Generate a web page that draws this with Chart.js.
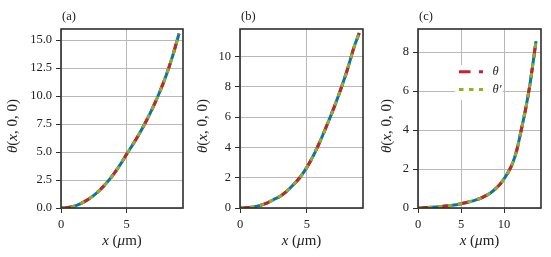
<!doctype html>
<html>
<head>
<title>theta(x,0,0) panels</title>
<script src="https://cdn.jsdelivr.net/npm/chart.js@4.4.0/dist/chart.umd.min.js"></script>
<style>
body { margin: 0; background: #fff; }
#wrap { position: relative; width: 551px; height: 257px; }
#wrap canvas { position: absolute; left: 0; top: 0; }
</style>
</head>
<body>
<div id="wrap">
	<canvas id="pa" width="551" height="257"></canvas>
	<canvas id="pb" width="551" height="257"></canvas>
	<canvas id="pc" width="551" height="257"></canvas>
</div>
<script>
// values (x in um, theta(x,0,0))
var xA = [0, 0.5, 1, 1.5, 2, 2.5, 3, 3.5, 4, 4.5, 5, 5.5, 6, 6.5, 7, 7.5, 8, 8.5, 9];
var yA = [0, 0.04, 0.17, 0.4, 0.72, 1.13, 1.65, 2.27, 3.0, 3.85, 4.8, 5.72, 6.7, 7.78, 8.97, 10.3, 11.8, 13.55, 15.6];

var xB = [0, 0.5, 1, 1.5, 2, 2.5, 3, 3.5, 4, 4.5, 5, 5.5, 6, 6.5, 7, 7.5, 8, 8.5, 8.9];
var yB = [0, 0.01, 0.07, 0.17, 0.33, 0.55, 0.78, 1.12, 1.55, 2.05, 2.7, 3.5, 4.45, 5.5, 6.6, 7.8, 9.1, 10.6, 11.56];

var xC = [0, 1, 2, 3, 4, 5, 6, 7, 7.5, 8, 8.5, 9, 9.5, 10, 10.5, 11, 11.5, 12, 12.5, 13, 13.5, 13.72];
var yC = [0, 0.02, 0.05, 0.09, 0.14, 0.22, 0.32, 0.46, 0.55, 0.66, 0.8, 0.98, 1.2, 1.5, 1.85, 2.3, 3.0, 4.0, 5.05, 6.3, 7.85, 8.57];

var panelTags = ['(a)', '(b)', '(c)'];
var legendNames = ['\u03b8', '\u03b8\u2032'];

var blue = '#0a72b8';
var red = '#cc1f33';
var green = '#8ab51c';
var serif = '"Liberation Serif", "DejaVu Serif", serif';

function toPoints(xs, ys)
{
	var pts = [];
	for (var i = 0; i < xs.length; i++) {
		pts.push({x: xs[i], y: ys[i]});
	}
	return pts;
}

// draw a string made of upright/italic pieces, centred on (x, y)
function drawRich(ctx, parts, x, y, size)
{
	var total = 0;
	parts.forEach(function(p) {
		ctx.font = (p.it ? 'italic ' : '') + size + 'px ' + serif;
		p.w = ctx.measureText(p.t).width;
		total += p.w;
	});
	var cx = x - total / 2;
	ctx.textAlign = 'left';
	ctx.textBaseline = 'middle';
	parts.forEach(function(p) {
		ctx.font = (p.it ? 'italic ' : '') + size + 'px ' + serif;
		ctx.fillText(p.t, cx, y);
		cx += p.w;
	});
}

var panelDecor = {
	id: 'panelDecor',
	afterDraw: function(chart) {
		var o = chart.options.plugins.panelDecor;
		var ctx = chart.ctx;
		var a = chart.chartArea;
		ctx.save();

		if (o.legend) {
			ctx.fillStyle = 'rgba(255,255,255,0.95)';
			ctx.fillRect(455, 65, 48, 35);
			var rows = [[red, [11.5, 8.5], 71.7], [green, [4.5, 5.5], 89.5]];
			rows.forEach(function(r, i) {
				ctx.strokeStyle = r[0];
				ctx.lineWidth = 3;
				ctx.setLineDash(r[1]);
				ctx.beginPath();
				ctx.moveTo(459, r[2]);
				ctx.lineTo(483, r[2]);
				ctx.stroke();
				ctx.setLineDash([]);
				ctx.fillStyle = '#222';
				ctx.font = 'italic 12.5px ' + serif;
				ctx.textAlign = 'left';
				ctx.textBaseline = 'middle';
				ctx.fillText(legendNames[i], 492.5, r[2]);
			});
		}

		// spines
		ctx.strokeStyle = '#2e2e2e';
		ctx.lineWidth = 1.6;
		ctx.strokeRect(a.left, a.top, a.right - a.left, a.bottom - a.top);

		ctx.fillStyle = '#222';
		ctx.font = '12.5px ' + serif;
		ctx.textAlign = 'left';
		ctx.textBaseline = 'middle';
		ctx.fillText(o.tag, a.left + 1, 17);

		drawRich(ctx, [{t: 'x', it: true}, {t: ' (', it: false}, {t: '\u03bc', it: true}, {t: 'm)', it: false}],
			(a.left + a.right) / 2, 241, 15);

		ctx.translate(o.yTitleX, 126);
		ctx.rotate(-Math.PI / 2);
		drawRich(ctx, [{t: '\u03b8', it: true}, {t: '(', it: false}, {t: 'x', it: true}, {t: ', 0, 0)', it: false}],
			0, 0, 15);
		ctx.restore();
	}
};

function makePanel(id, xs, ys, p)
{
	var ctx = document.getElementById(id).getContext('2d');
	var pts = toPoints(xs, ys);
	return new Chart(ctx, {
		type: 'line',
		data: {
			datasets: [
				{ label: 'blue', data: pts, borderColor: blue, borderWidth: 3, pointRadius: 0, fill: false, cubicInterpolationMode: 'monotone', order: 3 },
				{ label: legendNames[0], data: pts, borderColor: red, borderWidth: 3, borderDash: [11.5, 8.5], pointRadius: 0, fill: false, cubicInterpolationMode: 'monotone', order: 2 },
				{ label: legendNames[1], data: pts, borderColor: green, borderWidth: 3, borderDash: [4.5, 5.5], pointRadius: 0, fill: false, cubicInterpolationMode: 'monotone', order: 1 }
			]
		},
		options: {
			responsive: false,
			animation: false,
			events: [],
			layout: { padding: { left: p.padLeft, right: p.padRight, top: 29, bottom: 0 } },
			plugins: {
				legend: { display: false },
				tooltip: { enabled: false },
				panelDecor: { tag: p.tag, yTitleX: p.yTitleX, legend: p.legend }
			},
			scales: {
				x: {
					type: 'linear',
					min: 0,
					max: p.xMax,
					border: { display: false },
					grid: { color: '#b8b8b8', lineWidth: 1, tickLength: 5, tickColor: '#2e2e2e', tickWidth: 1 },
					ticks: { stepSize: 5, includeBounds: false, padding: 4, color: '#222', font: { family: serif, size: 12.5 }, maxRotation: 0 },
					afterFit: function(s) { s.height = 49; }
				},
				y: {
					type: 'linear',
					min: 0,
					max: p.yMax,
					border: { display: false },
					grid: { color: '#b8b8b8', lineWidth: 1, tickLength: 5, tickColor: '#2e2e2e', tickWidth: 1 },
					ticks: {
						stepSize: p.yStep,
						includeBounds: false,
						padding: 4,
						color: '#222',
						font: { family: serif, size: 12.5 },
						callback: function(v) { return v.toFixed(p.yDec); }
					},
					afterFit: function(s) { s.width = p.yWidth; }
				}
			}
		},
		plugins: [panelDecor]
	});
}

makePanel('pa', xA, yA, { padLeft: 0, yWidth: 61, padRight: 368, xMax: 9.3, yMax: 16.0, yStep: 2.5, yDec: 1, tag: panelTags[0], yTitleX: 13, legend: false });
makePanel('pb', xB, yB, { padLeft: 190, yWidth: 50, padRight: 188, xMax: 9.18, yMax: 11.83, yStep: 2, yDec: 0, tag: panelTags[1], yTitleX: 203, legend: false });
makePanel('pc', xC, yC, { padLeft: 370, yWidth: 48, padRight: 10, xMax: 14.3, yMax: 9.19, yStep: 2, yDec: 0, tag: panelTags[2], yTitleX: 387, legend: true });
</script>
</body>
</html>
